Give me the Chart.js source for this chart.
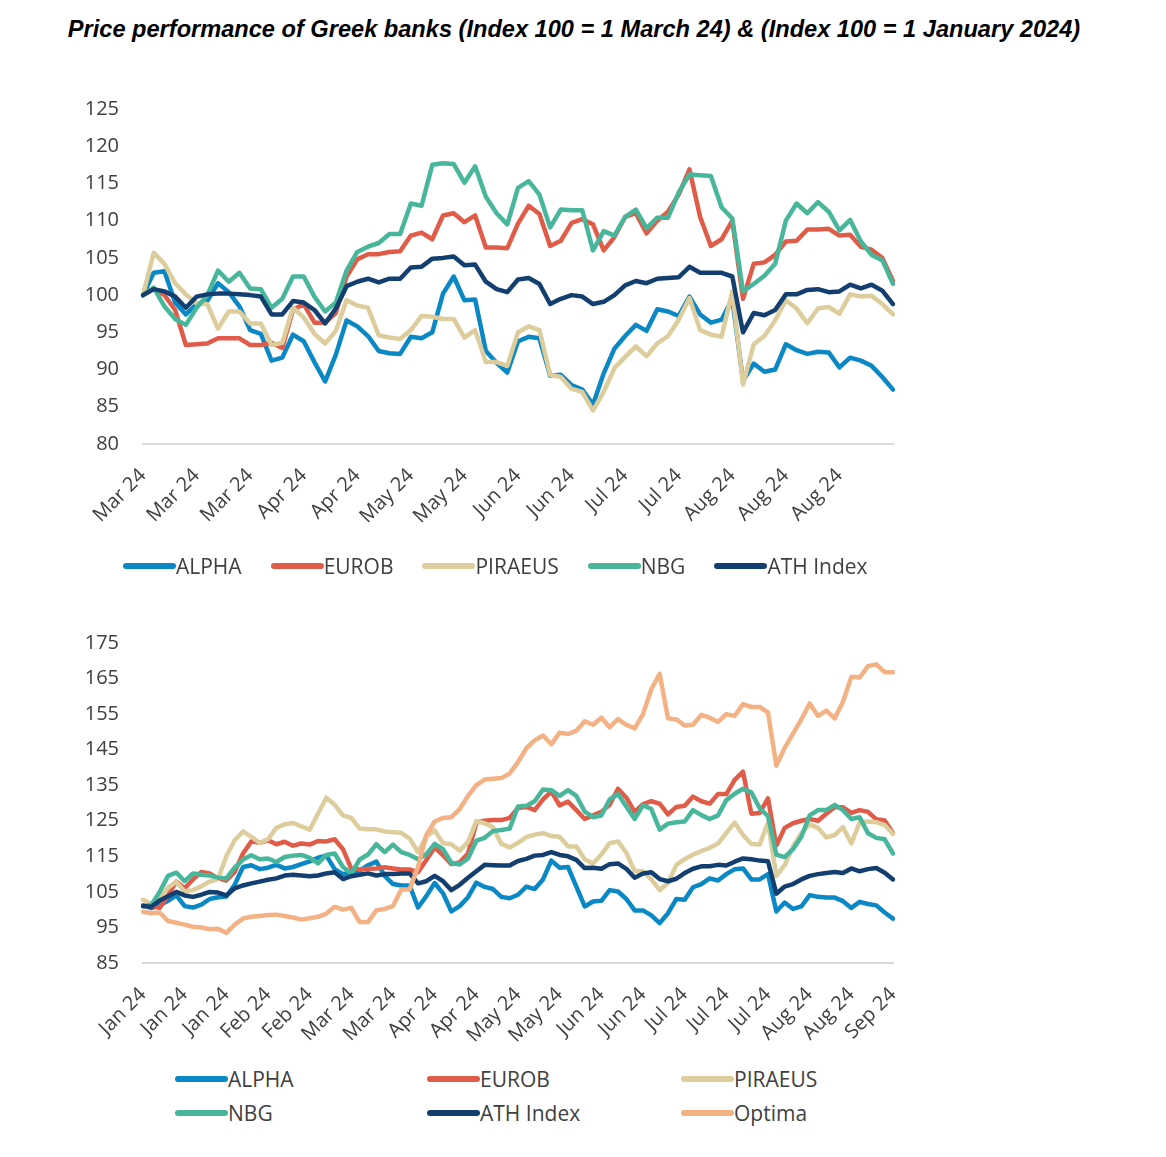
<!DOCTYPE html>
<html lang="en">
<head>
<meta charset="UTF-8">
<title>Price performance of Greek banks</title>
<script src="https://cdn.jsdelivr.net/npm/chart.js"></script>
<style>
    * { margin: 0; padding: 0; box-sizing: border-box; }
    body {
        width: 1166px;
        height: 1157px;
        background: #fff;
        position: relative;
        overflow: hidden;
        font-family: 'Open Sans', sans-serif;
        color: #404040;
    }
    h1 {
        position: absolute;
        left: 0;
        width: 1148px;
        top: 16px;
        text-align: center;
        font: italic bold 23.6px 'Liberation Sans', Arial, sans-serif;
        color: #000;
    }
    canvas { position: absolute; left: 0; }
    #topChart { top: 62px; }
    #janChart { top: 592px; }
    .legend { position: absolute; font-size: 21px; line-height: 28px; }
    #topLegend { left: 123px; top: 552px; display: flex; }
    #topLegend .item { margin-right: 29px; }
    #janLegend { left: 175px; top: 1065px; display: grid; grid-template-columns: 252px 254px 200px; row-gap: 6px; }
    .item { display: flex; align-items: center; white-space: nowrap; }
    .swatch { width: 53px; height: 6px; border-radius: 3px; }
</style>
</head>
<body>
<h1>Price performance of Greek banks (Index 100 = 1 March 24) &amp; (Index 100 = 1 January 2024)</h1>
<canvas id="topChart" width="920" height="500"></canvas>
<div class="legend" id="topLegend"></div>
<canvas id="janChart" width="920" height="470"></canvas>
<div class="legend" id="janLegend"></div>

<script>
// ---- chart 1: index 100 = 1 March 24 (one tick label every 5 points)
const topTicks = ['Mar 24', 'Mar 24', 'Mar 24', 'Apr 24', 'Apr 24', 'May 24', 'May 24',
    'Jun 24', 'Jun 24', 'Jul 24', 'Jul 24', 'Aug 24', 'Aug 24', 'Aug 24'];

const topAlpha = [100, 103.0, 103.2, 99.0, 97.4, 98.8, 99.2, 101.6, 100.4, 98.5,
    95.3, 94.8, 91.2, 91.6, 94.7, 93.8, 91.0, 88.4, 92.0, 96.6,
    95.8, 94.5, 92.5, 92.2, 92.1, 94.4, 94.2, 95.0, 100.2, 102.5,
    99.3, 99.4, 92.5, 90.9, 89.6, 93.8, 94.4, 94.2, 89.2, 89.3,
    87.9, 87.3, 85.3, 89.5, 92.8, 94.5, 96.0, 95.2, 98.1, 97.8,
    97.2, 99.8, 97.4, 96.3, 96.7, 99.5, 88.5, 90.8, 89.7, 90.0,
    93.4, 92.6, 92.1, 92.4, 92.3, 90.3, 91.6, 91.2, 90.5, 89.0, 87.3];

const topEurob = [100, 100.8, 100.0, 98.0, 93.3, 93.4, 93.5, 94.2, 94.2, 94.2,
    93.3, 93.3, 93.6, 92.9, 98.0, 98.8, 96.3, 96.3, 97.6, 102.5,
    104.8, 105.5, 105.5, 105.8, 105.9, 108.0, 108.4, 107.5, 110.7, 111.0,
    109.8, 110.7, 106.4, 106.4, 106.3, 109.6, 112.0, 110.9, 106.6, 107.3,
    109.7, 110.2, 109.5, 106.0, 107.8, 110.5, 111.0, 108.3, 110.0, 111.2,
    113.5, 116.9, 110.5, 106.6, 107.5, 110.0, 99.5, 104.2, 104.4, 105.4,
    107.2, 107.3, 108.8, 108.8, 108.9, 108.0, 108.1, 106.5, 106.1, 105.0, 101.9];

const topPiraeus = [100, 105.7, 104.2, 101.6, 100.1, 98.9, 98.8, 95.5, 97.8, 97.8,
    96.2, 96.2, 93.3, 93.6, 98.3, 97.0, 94.8, 93.5, 95.2, 99.3,
    98.6, 98.3, 94.6, 94.3, 94.1, 95.3, 97.2, 97.1, 96.8, 96.8,
    94.3, 95.3, 91.0, 91.0, 90.5, 95.0, 95.8, 95.3, 89.3, 89.0,
    87.4, 87.0, 84.5, 87.0, 90.2, 91.7, 93.1, 91.8, 93.5, 94.5,
    96.7, 99.6, 95.3, 94.7, 94.4, 100.5, 88.0, 93.4, 94.5, 96.6,
    99.3, 98.2, 96.2, 98.2, 98.4, 97.5, 100.1, 99.8, 99.9, 98.8, 97.4];

const topNbg = [100, 101.0, 98.5, 96.8, 96.0, 98.3, 100.0, 103.3, 101.8, 103.0,
    100.9, 100.8, 98.3, 99.5, 102.5, 102.5, 99.8, 97.8, 99.0, 103.3,
    105.8, 106.5, 107.0, 108.2, 108.2, 112.3, 112.0, 117.5, 117.7, 117.6,
    115.1, 117.3, 113.2, 111.0, 109.5, 114.4, 115.3, 113.5, 109.1, 111.5,
    111.4, 111.4, 106.0, 108.6, 108.0, 110.5, 111.5, 109.0, 110.4, 110.4,
    113.8, 116.2, 116.1, 116.0, 111.8, 110.3, 100.5, 101.5, 102.6, 104.2,
    110.0, 112.3, 111.0, 112.5, 111.2, 108.7, 110.1, 107.2, 105.4, 104.7, 101.5];

const topAth = [100, 100.8, 100.5, 99.8, 98.3, 99.8, 100.1, 100.2, 100.2, 100.1,
    100.0, 99.8, 97.4, 97.4, 99.2, 99.0, 98.0, 96.2, 98.2, 101.2,
    101.8, 102.2, 101.7, 102.2, 102.2, 103.7, 103.8, 104.9, 105.0, 105.2,
    104.0, 104.1, 101.8, 100.8, 100.4, 102.1, 102.3, 101.5, 98.8, 99.5,
    100.0, 99.8, 98.8, 99.1, 100.0, 101.3, 101.9, 101.6, 102.2, 102.3,
    102.4, 103.8, 103.0, 103.0, 103.0, 102.5, 95.0, 97.6, 97.3, 98.0,
    100.1, 100.1, 100.7, 100.8, 100.4, 100.5, 101.4, 100.9, 101.4, 100.6, 98.8];

// ---- chart 2: index 100 = 1 January 2024
const janTicks = ['Jan 24', 'Jan 24', 'Jan 24', 'Feb 24', 'Feb 24', 'Mar 24', 'Mar 24',
    'Apr 24', 'Apr 24', 'May 24', 'May 24', 'Jun 24', 'Jun 24', 'Jul 24', 'Jul 24',
    'Jul 24', 'Aug 24', 'Aug 24', 'Sep 24'];

const janAlpha = [101.2, 100.4, 101.2, 102.5, 104.0, 101.0, 100.6, 101.4, 103.0, 103.5,
    103.7, 107.0, 112.0, 112.5, 111.4, 111.8, 112.6, 111.6, 112.0, 112.8,
    113.6, 114.6, 115.2, 111.4, 110.0, 110.5, 111.0, 112.5, 113.5, 109.5,
    107.2, 106.8, 106.8, 100.6, 103.8, 107.5, 104.6, 99.5, 101.0, 103.5,
    107.6, 106.4, 105.8, 103.6, 103.2, 104.2, 106.5, 105.8, 108.5, 113.8,
    111.8, 112.0, 106.5, 100.9, 102.3, 102.5, 105.5, 105.1, 103.0, 99.8,
    99.8, 98.4, 96.2, 99.0, 103.0, 102.8, 106.3, 107.2, 108.8, 108.2,
    110.0, 111.4, 111.6, 108.5, 108.5, 110.0, 99.5, 102.0, 100.2, 100.9,
    104.1, 103.6, 103.4, 103.4, 102.4, 100.5, 102.2, 101.6, 101.2, 99.2, 97.5];

const janEurob = [101.0, 101.0, 100.5, 104.0, 107.9, 106.0, 108.5, 110.6, 110.2, 108.8,
    108.2, 110.6, 115.8, 119.2, 118.8, 119.5, 118.4, 119.1, 118.0, 118.6,
    118.3, 119.3, 119.2, 119.8, 117.0, 111.5, 111.3, 111.5, 111.6, 111.9,
    111.6, 111.3, 111.3, 110.5, 114.0, 117.5, 115.3, 112.8, 113.3, 115.8,
    124.5, 125.0, 125.2, 125.2, 125.8, 128.6, 128.9, 128.0, 131.0, 133.2,
    129.3, 130.4, 128.0, 125.5, 126.5, 127.5, 129.5, 134.0, 131.5, 127.5,
    129.7, 130.5, 129.8, 126.8, 128.9, 129.2, 131.8, 130.5, 129.8, 132.5,
    132.5, 136.5, 138.8, 127.0, 127.2, 131.3, 118.0, 123.0, 124.3, 125.0,
    125.5, 125.0, 127.0, 128.8, 128.8, 127.2, 128.0, 127.5, 125.4, 125.1, 121.5];

const janPiraeus = [102.8, 101.5, 103.1, 106.2, 107.8, 105.1, 105.5, 106.6, 107.9, 108.6,
    115.0, 119.5, 122.0, 120.5, 118.8, 119.8, 123.0, 124.0, 124.4, 123.4,
    122.5, 127.0, 131.5, 129.5, 126.5, 125.8, 122.8, 122.6, 122.6, 122.0,
    121.8, 121.6, 120.0, 116.2, 120.5, 122.3, 118.7, 118.4, 116.6, 119.0,
    124.9, 124.3, 123.2, 118.5, 117.5, 118.8, 120.4, 121.1, 121.5, 120.7,
    120.5, 117.8, 117.8, 114.2, 113.0, 115.5, 118.7, 119.2, 116.0, 110.8,
    110.8, 108.5, 105.5, 107.5, 112.6, 114.2, 115.5, 116.5, 117.4, 118.6,
    121.6, 124.5, 121.0, 118.5, 118.3, 124.5, 109.5, 112.5, 117.8, 121.5,
    124.0, 123.0, 120.3, 121.0, 123.2, 118.6, 124.6, 124.8, 124.6, 123.8, 121.3];

const janNbg = [101.0, 101.3, 105.0, 109.5, 110.4, 108.0, 110.2, 109.8, 109.6, 109.0,
    108.8, 111.8, 114.1, 115.3, 114.2, 114.4, 113.4, 114.8, 115.2, 115.4,
    114.6, 113.0, 115.4, 115.8, 112.0, 110.2, 114.1, 115.5, 118.4, 116.2,
    118.3, 116.2, 115.4, 114.2, 115.6, 118.5, 117.0, 113.2, 112.7, 114.4,
    119.4, 120.2, 122.1, 122.4, 122.8, 129.0, 129.2, 130.5, 133.8, 133.6,
    132.0, 133.6, 132.0, 127.6, 126.0, 126.5, 131.0, 132.5, 129.0, 125.5,
    129.4, 128.3, 122.5, 124.2, 124.6, 124.8, 128.0, 126.6, 125.5, 126.5,
    130.8, 132.6, 134.0, 133.0, 128.5, 126.3, 115.5, 114.8, 117.0, 120.5,
    126.5, 128.0, 128.0, 129.5, 128.0, 125.5, 126.0, 121.5, 120.2, 119.8, 115.8];

const janAth = [101.0, 100.8, 102.6, 103.8, 105.0, 104.0, 103.6, 104.2, 105.0, 104.8,
    104.0, 106.0, 106.8, 107.4, 107.9, 108.4, 108.8, 109.6, 109.8, 109.6,
    109.4, 109.6, 110.2, 110.5, 108.6, 109.4, 109.8, 110.2, 109.6, 110.0,
    110.0, 110.2, 110.2, 107.4, 108.0, 109.5, 108.0, 105.5, 107.0, 109.0,
    110.8, 112.6, 112.5, 112.4, 112.4, 113.7, 114.3, 115.2, 115.4, 116.2,
    115.4, 115.0, 114.0, 111.7, 111.8, 111.5, 112.8, 113.0, 111.5, 109.0,
    110.2, 110.5, 108.6, 108.0, 108.7, 110.3, 111.5, 112.2, 112.2, 112.6,
    112.4, 113.5, 114.4, 114.2, 113.8, 113.6, 104.5, 106.5, 107.2, 108.5,
    109.5, 110.0, 110.3, 110.6, 110.3, 111.6, 110.8, 111.4, 111.7, 110.4, 108.5];

const janOptima = [99.4, 99.0, 99.2, 96.8, 96.3, 95.8, 95.2, 95.0, 94.5, 94.6,
    93.5, 95.8, 97.5, 98.0, 98.2, 98.5, 98.6, 98.2, 97.8, 97.2,
    97.6, 98.0, 98.9, 100.8, 100.0, 100.5, 96.5, 96.5, 99.8, 100.2,
    101.0, 105.7, 105.7, 112.0, 121.0, 124.8, 125.8, 126.0, 128.3, 132.0,
    135.0, 136.6, 136.8, 137.0, 138.3, 141.5, 145.4, 147.6, 149.0, 146.5,
    149.8, 149.4, 150.3, 153.0, 152.0, 154.0, 151.3, 153.6, 152.0, 151.0,
    155.0, 162.0, 166.3, 153.8, 153.5, 151.8, 152.0, 154.8, 154.0, 152.8,
    155.0, 154.5, 157.8, 157.0, 157.0, 155.5, 140.5, 145.5, 149.5, 153.5,
    158.0, 154.5, 156.0, 153.8, 158.5, 165.5, 165.3, 168.5, 169.0, 166.8, 166.8];

const colors = {
    ALPHA: '#0a88c6',
    EUROB: '#e05c48',
    PIRAEUS: '#ddcc9c',
    NBG: '#48b69b',
    'ATH Index': '#133f70',
    Optima: '#f4b184'
};

// one tick label every 5 points, empty category in between
function buildLabels(ticks, count) {
    const labels = [];
    for (let i = 0; i < count; i++) {
        labels.push(i % 5 === 0 ? (ticks[i / 5] || '') : '');
    }
    return labels;
}

function makeChart(id, labels, series, yMin, yMax, step, padTop, xHeight) {
    const n = series.length;
    const datasets = series.map((s, i) => ({
        label: s.name,
        data: s.data,
        borderColor: colors[s.name],
        borderWidth: 4.5,
        pointRadius: 0,
        tension: 0,
        fill: false,
        borderJoinStyle: 'round',
        borderCapStyle: 'round',
        order: n - i   // later series on top, like the original
    }));

    return new Chart(document.getElementById(id), {
        type: 'line',
        data: { labels: labels, datasets: datasets },
        options: {
            responsive: false,
            animation: false,
            devicePixelRatio: 1,
            layout: { padding: { top: padTop, right: 27, left: 0, bottom: 0 } },
            plugins: { legend: { display: false }, tooltip: { enabled: false } },
            scales: {
                x: {
                    grid: { display: false, drawTicks: false },
                    border: { display: true, color: '#d9d9d9', width: 2 },
                    ticks: {
                        autoSkip: false,
                        minRotation: 45,
                        maxRotation: 45,
                        padding: 20,
                        color: '#404040',
                        font: { family: 'Open Sans', size: 20 }
                    },
                    afterFit: scale => {
                        scale.height = xHeight;
                        scale.paddingLeft = 0;
                        scale.paddingRight = 0;
                    }
                },
                y: {
                    min: yMin,
                    max: yMax,
                    grid: { display: false, drawTicks: false },
                    border: { display: false },
                    ticks: {
                        stepSize: step,
                        padding: 24,
                        color: '#404040',
                        font: { family: 'Open Sans', size: 20 }
                    },
                    afterFit: scale => { scale.width = 143; }
                }
            }
        }
    });
}

function makeLegend(id, names) {
    const box = document.getElementById(id);
    names.forEach(name => {
        const item = document.createElement('div');
        item.className = 'item';
        item.innerHTML = '<span class="swatch" style="background:' + colors[name] + '"></span><span>' + name + '</span>';
        box.appendChild(item);
    });
}

makeChart('topChart', buildLabels(topTicks, topAlpha.length), [
    { name: 'ALPHA', data: topAlpha },
    { name: 'EUROB', data: topEurob },
    { name: 'PIRAEUS', data: topPiraeus },
    { name: 'NBG', data: topNbg },
    { name: 'ATH Index', data: topAth }
], 80, 125, 5, 47, 118);

makeChart('janChart', buildLabels(janTicks, janAlpha.length), [
    { name: 'ALPHA', data: janAlpha },
    { name: 'EUROB', data: janEurob },
    { name: 'PIRAEUS', data: janPiraeus },
    { name: 'NBG', data: janNbg },
    { name: 'ATH Index', data: janAth },
    { name: 'Optima', data: janOptima }
], 85, 175, 10, 51, 99);

makeLegend('topLegend', ['ALPHA', 'EUROB', 'PIRAEUS', 'NBG', 'ATH Index']);
makeLegend('janLegend', ['ALPHA', 'EUROB', 'PIRAEUS', 'NBG', 'ATH Index', 'Optima']);
</script>
</body>
</html>
